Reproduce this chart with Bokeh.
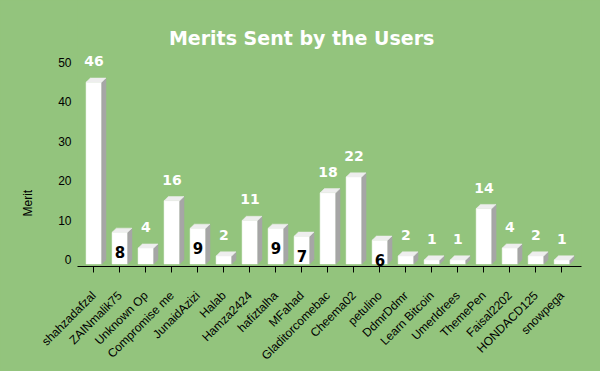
import math
from bokeh.plotting import figure
from bokeh.models import FixedTicker, Title
from bokeh.core.properties import value
from bokeh.embed import file_html
from bokeh.resources import INLINE

# ---- data ----
users = ["shahzadafzal", "ZAINmalik75", "Unknown Op", "Compromise me", "JunaidAzizi",
         "Halab", "Hamza2424", "hafiztalha", "MFahad", "Gladitorcomebac", "Cheema02",
         "petulino", "DdmrDdmr", "Learn Bitcoin", "UmerIdrees", "ThemePen", "Faisal2202",
         "HONDACD125", "snowpega"]
merits = [46, 8, 4, 16, 9, 2, 11, 9, 7, 18, 22, 6, 2, 1, 1, 14, 4, 2, 1]
y_ticks = [0, 10, 20, 30, 40, 50]
title_text = "Merits Sent by the Users"
y_label = "Merit"

# ---- style / geometry ----
BG = "#93c47d"
BW = 0.6      # front face width (category units)
DX = 0.165    # 3D depth, x
DY = 1.06     # 3D depth, y
Y0 = -1.04    # front face base

xs = list(range(len(users)))

p = figure(width=600, height=371, x_range=(-0.63, 18.75), y_range=(-1.694, 65.64),
           min_border_left=77, min_border_right=19, min_border_top=0, min_border_bottom=105,
           background_fill_color=BG, border_fill_color=BG, outline_line_color=None,
           output_backend="svg", toolbar_location=None, title=None)

# front faces
p.vbar(x=xs, width=BW, bottom=Y0, top=[v + Y0 for v in merits],
       fill_color="white", line_color="white", line_width=0.5)
# side faces
side_x = [[x + BW / 2, x + BW / 2 + DX, x + BW / 2 + DX, x + BW / 2] for x in xs]
side_y = [[Y0, Y0 + DY, v + Y0 + DY, v + Y0] for v in merits]
p.patches(side_x, side_y, fill_color="#a6a6a6", line_color="#a6a6a6", line_width=0.5)
# top faces
top_x = [[x - BW / 2, x + BW / 2, x + BW / 2 + DX, x - BW / 2 + DX] for x in xs]
top_y = [[v + Y0, v + Y0, v + Y0 + DY, v + Y0 + DY] for v in merits]
p.patches(top_x, top_y, fill_color="#eeeeee", line_color="#eeeeee", line_width=0.5)

# value labels
out_x, out_y, out_t, in_x, in_y, in_t = [], [], [], [], [], []
for x, v in zip(xs, merits):
    if 5 <= v <= 10:
        in_x.append(x); in_y.append(v - 6.0); in_t.append(str(v))
    else:
        out_x.append(x); out_y.append(v + 4.3); out_t.append(str(v))
p.text(out_x, out_y, text=out_t, text_align="center", text_baseline="alphabetic",
       text_font=value("DejaVu Sans"), text_font_style="bold", text_font_size="14px",
       text_color="white")
p.text(in_x, in_y, text=in_t, text_align="center", text_baseline="alphabetic",
       text_font=value("DejaVu Sans"), text_font_style="bold", text_font_size="15px",
       text_color="black")

# title
p.text([7.99], [56.2], text=[title_text], text_align="center", text_baseline="alphabetic",
       text_font=value("DejaVu Sans"), text_font_style="bold", text_font_size="19px",
       text_color="white")

# axes
p.xgrid.visible = False
p.ygrid.visible = False

p.yaxis.ticker = FixedTicker(ticks=y_ticks)
p.yaxis.axis_line_color = None
p.yaxis.major_tick_line_color = None
p.yaxis.minor_tick_line_color = None
p.yaxis.major_tick_out = 0
p.yaxis.major_tick_in = 0
p.yaxis.major_label_standoff = 6
p.yaxis.major_label_text_font = "Liberation Sans"
p.yaxis.major_label_text_font_size = "12px"
p.yaxis.major_label_text_color = "black"

p.xaxis.ticker = FixedTicker(ticks=xs)
p.xaxis.major_label_overrides = {x: u for x, u in zip(xs, users)}
p.xaxis.axis_line_color = "black"
p.xaxis.major_tick_line_color = "black"
p.xaxis.minor_tick_line_color = None
p.xaxis.major_tick_out = 6
p.xaxis.major_tick_in = 0
p.xaxis.major_label_orientation = math.pi / 4
p.xaxis.major_label_standoff = 21
p.xaxis.major_label_text_font = "Liberation Sans"
p.xaxis.major_label_text_font_size = "12px"
p.xaxis.major_label_text_color = "black"

p.add_layout(Title(text=y_label, align="left", offset=50, vertical_align="top",
                   standoff=38, text_font="Liberation Sans", text_font_size="12px",
                   text_font_style="normal", text_color="black"), "left")

html = file_html(p, INLINE)
html = html.replace("<head>", "<head><style>html,body{background:#93c47d;}</style>", 1)
open("out.html", "w").write(html)
